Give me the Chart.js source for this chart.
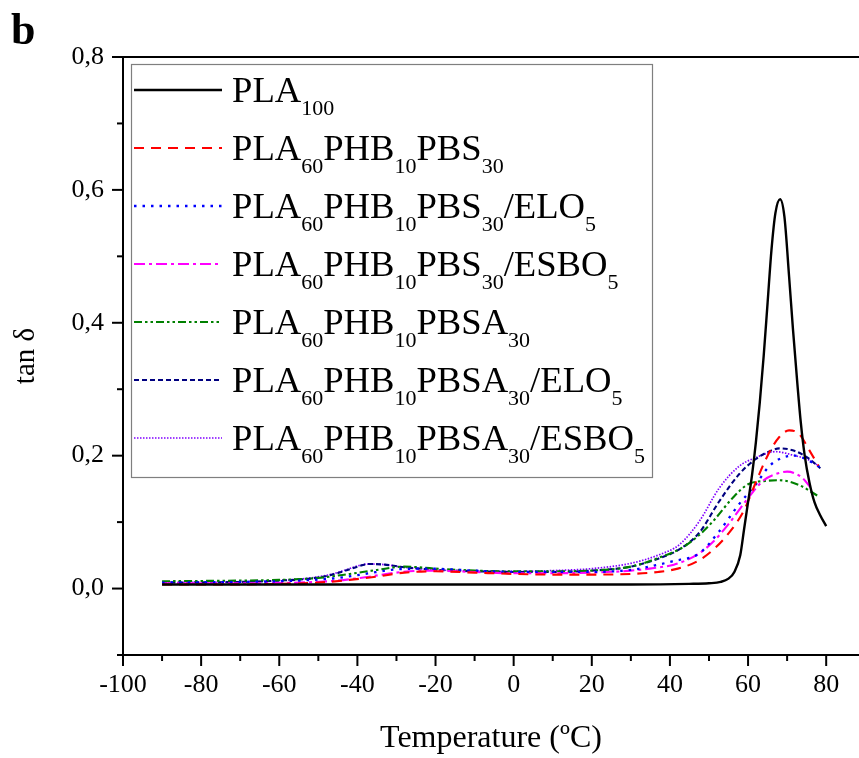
<!DOCTYPE html>
<html>
<head>
<meta charset="utf-8">
<script src="https://cdn.jsdelivr.net/npm/chart.js@4/dist/chart.umd.min.js"></script>
<style>
  body { margin: 0; background: #fff; }
  canvas { display: block; }
</style>
</head>
<body>
<canvas id="grafico" width="859" height="758"></canvas>
<script>
// ejes
const xTicks = [-100, -80, -60, -40, -20, 0, 20, 40, 60, 80];
const xMinor = [-90, -70, -50, -30, -10, 10, 30, 50, 70];
const yTicks = [0, 0.2, 0.4, 0.6, 0.8];
const yMinor = [-0.1, 0.1, 0.3, 0.5, 0.7];

// series (temperatura, tan delta)
const tPLA100 = [-90, -70, -50, -30, -10, 10, 30, 45, 50, 53, 55, 56.5, 58, 59, 60, 61, 62, 63, 64, 65, 66, 67, 68.2, 69.3, 70.5, 71.5, 72.6, 73.5, 74.5, 75.7, 77, 78.5, 80];
const vPLA100 = [0.006, 0.006, 0.006, 0.006, 0.006, 0.006, 0.006, 0.007, 0.008, 0.010, 0.015, 0.025, 0.05, 0.09, 0.13, 0.17, 0.22, 0.28, 0.35, 0.43, 0.51, 0.565, 0.586, 0.56, 0.47, 0.39, 0.31, 0.25, 0.2, 0.16, 0.13, 0.11, 0.094];

const tPBS = [-90, -75, -60, -50, -42, -35, -28, -20, -10, 0, 10, 20, 30, 37, 42, 47, 51, 55, 59, 62, 65, 68, 70.5, 73, 76, 78];
const vPBS = [0.006, 0.006, 0.007, 0.009, 0.013, 0.018, 0.024, 0.026, 0.024, 0.022, 0.021, 0.021, 0.022, 0.025, 0.030, 0.041, 0.058, 0.083, 0.118, 0.16, 0.2, 0.228, 0.238, 0.233, 0.205, 0.185];

const tPBS_ELO = [-90, -70, -55, -45, -38, -30, -22, -10, 0, 10, 20, 30, 33, 40.6, 47.5, 52.6, 57.7, 62, 65.4, 68.8, 72, 76, 78.6];
const vPBS_ELO = [0.009, 0.010, 0.012, 0.016, 0.022, 0.029, 0.030, 0.027, 0.025, 0.025, 0.025, 0.028, 0.031, 0.041, 0.053, 0.086, 0.127, 0.157, 0.184, 0.197, 0.2, 0.191, 0.182];

const tPBS_ESBO = [-90, -70, -55, -45, -38, -30, -22, -10, 0, 10, 20, 30, 36, 41, 47, 51, 55, 60, 64, 68, 70, 74, 76.5];
const vPBS_ESBO = [0.008, 0.008, 0.009, 0.012, 0.017, 0.024, 0.027, 0.025, 0.023, 0.023, 0.024, 0.027, 0.031, 0.036, 0.051, 0.07, 0.097, 0.136, 0.163, 0.174, 0.176, 0.166, 0.148];

const tPBSA = [-90, -70, -60, -50, -42, -35, -28, -20, -10, 0, 10, 20, 30, 37, 43, 47, 51, 56, 60, 64.5, 68, 73, 77.7];
const vPBSA = [0.011, 0.012, 0.013, 0.016, 0.022, 0.028, 0.033, 0.030, 0.027, 0.026, 0.026, 0.027, 0.033, 0.046, 0.061, 0.078, 0.101, 0.136, 0.157, 0.162, 0.163, 0.156, 0.14];

const tPBSA_ELO = [-90, -70, -60, -52, -47, -43, -40, -37, -33, -28, -22, -15, 0, 10, 20, 30, 37, 42.4, 47.5, 52.6, 57.7, 62, 66, 68, 72, 75.7, 78.5];
const vPBSA_ELO = [0.009, 0.010, 0.012, 0.015, 0.020, 0.027, 0.033, 0.037, 0.036, 0.032, 0.029, 0.027, 0.025, 0.025, 0.027, 0.033, 0.045, 0.059, 0.084, 0.131, 0.172, 0.195, 0.208, 0.211, 0.207, 0.195, 0.181];

const tPBSA_ESBO = [-90, -70, -60, -52, -47, -43, -40, -37, -33, -28, -22, -15, 0, 10, 20, 30, 37.3, 42.4, 47.5, 52.6, 57.7, 62, 67, 72, 75, 78];
const vPBSA_ESBO = [0.009, 0.010, 0.012, 0.016, 0.021, 0.028, 0.034, 0.037, 0.036, 0.032, 0.029, 0.027, 0.026, 0.027, 0.030, 0.038, 0.051, 0.066, 0.101, 0.151, 0.184, 0.197, 0.206, 0.2, 0.195, 0.185];

// leyenda: _{..} = subíndice
const etiquetas = [
  "PLA_{100}",
  "PLA_{60}PHB_{10}PBS_{30}",
  "PLA_{60}PHB_{10}PBS_{30}/ELO_{5}",
  "PLA_{60}PHB_{10}PBS_{30}/ESBO_{5}",
  "PLA_{60}PHB_{10}PBSA_{30}",
  "PLA_{60}PHB_{10}PBSA_{30}/ELO_{5}",
  "PLA_{60}PHB_{10}PBSA_{30}/ESBO_{5}"
];

const FUENTE = '"Liberation Serif", "Times New Roman", serif';

const series = [
  { t: tPLA100, v: vPLA100, color: '#000000', dash: [], w: 2.4 },
  { t: tPBS, v: vPBS, color: '#ff0000', dash: [10, 7], w: 2.1 },
  { t: tPBS_ELO, v: vPBS_ELO, color: '#0000ff', dash: [2.5, 6], w: 2.3 },
  { t: tPBS_ESBO, v: vPBS_ESBO, color: '#ff00ff', dash: [11, 4, 3, 4], w: 2.1 },
  { t: tPBSA, v: vPBSA, color: '#008000', dash: [8, 3, 2.5, 3, 2.5, 3], w: 2.1 },
  { t: tPBSA_ELO, v: vPBSA_ELO, color: '#000080', dash: [5, 3], w: 2.1 },
  { t: tPBSA_ESBO, v: vPBSA_ESBO, color: '#8000ff', dash: [1.5, 1.5], w: 1.7 }
];

function textoPlano(s) { return s.replace(/_\{([^}]*)\}/g, '$1'); }

function textoRico(ctx, s, x, y, size, medir) {
  const partes = s.split(/(_\{[^}]*\})/).filter(Boolean);
  partes.forEach(p => {
    if (p.startsWith('_{')) {
      const t = p.slice(2, -1);
      ctx.font = (size * 0.6) + 'px ' + FUENTE;
      if (!medir) ctx.fillText(t, x, y + size * 0.36);
      x += ctx.measureText(t).width;
    } else {
      ctx.font = size + 'px ' + FUENTE;
      if (!medir) ctx.fillText(p, x, y);
      x += ctx.measureText(p).width;
    }
  });
  return x;
}

// marco, marcas de los ejes y la letra "b"
const marco = {
  id: 'marco',
  afterDraw(chart) {
    const { ctx, chartArea: a, scales: { x, y } } = chart;
    ctx.save();
    ctx.strokeStyle = '#000';
    ctx.lineWidth = 2;
    const seg = (x1, y1, x2, y2) => { ctx.beginPath(); ctx.moveTo(x1, y1); ctx.lineTo(x2, y2); ctx.stroke(); };
    seg(a.left, a.top, a.right, a.top);
    seg(a.left, a.top - 1, a.left, a.bottom + 1);
    seg(a.left - 1, a.bottom, a.right, a.bottom);
    xTicks.forEach(v => { const p = x.getPixelForValue(v); seg(p, a.bottom, p, a.bottom + 11); });
    xMinor.forEach(v => { const p = x.getPixelForValue(v); seg(p, a.bottom, p, a.bottom + 6); });
    yTicks.forEach(v => { const p = y.getPixelForValue(v); seg(a.left, p, a.left - 11, p); });
    yMinor.forEach(v => { const p = y.getPixelForValue(v); seg(a.left, p, a.left - 6, p); });
    ctx.fillStyle = '#000';
    ctx.font = 'bold 44px ' + FUENTE;
    ctx.textBaseline = 'alphabetic';
    ctx.fillText('b', 11, 44);
    ctx.restore();
  }
};

// leyenda con subíndices
const leyenda = {
  id: 'leyenda',
  afterDatasetsDraw(chart) {
    const ctx = chart.ctx;
    const caja = { x: 131, y: 64, w: 521, h: 413 };
    ctx.save();
    ctx.fillStyle = '#fff';
    ctx.fillRect(caja.x, caja.y, caja.w, caja.h);
    ctx.strokeStyle = '#7f7f7f';
    ctx.lineWidth = 1.2;
    ctx.strokeRect(caja.x + 0.5, caja.y + 0.5, caja.w, caja.h);
    // ajustar tamaño para que la etiqueta más larga ocupe ~413 px
    let maxW = 0;
    etiquetas.forEach(s => { maxW = Math.max(maxW, textoRico(ctx, s, 0, 0, 33, true)); });
    const size = 33 * 413 / maxW;
    ctx.fillStyle = '#000';
    ctx.textBaseline = 'alphabetic';
    etiquetas.forEach((s, i) => {
      const yy = 90 + i * 58;
      const ds = series[i];
      ctx.strokeStyle = ds.color;
      ctx.lineWidth = ds.w;
      ctx.setLineDash(ds.dash);
      ctx.beginPath(); ctx.moveTo(134, yy); ctx.lineTo(222, yy); ctx.stroke();
      ctx.setLineDash([]);
      textoRico(ctx, s, 232, yy + 12, size, false);
    });
    ctx.restore();
  }
};

const ctx = document.getElementById('grafico').getContext('2d');

new Chart(ctx, {
  type: 'line',
  data: {
    datasets: series.map((s, i) => ({
      label: textoPlano(etiquetas[i]),
      data: s.t.map((t, k) => ({ x: t, y: s.v[k] })),
      borderColor: s.color,
      borderWidth: s.w,
      borderDash: s.dash,
      pointRadius: 0,
      fill: false,
      cubicInterpolationMode: 'monotone'
    }))
  },
  options: {
    responsive: false,
    animation: false,
    layout: { padding: { top: 57, right: 0, left: 0, bottom: 0 } },
    plugins: {
      legend: { display: false },
      tooltip: { enabled: false }
    },
    scales: {
      x: {
        type: 'linear',
        min: -100,
        max: 88.4,
        afterBuildTicks: sc => { sc.ticks = xTicks.map(v => ({ value: v })); },
        afterFit: sc => { sc.height = 103; },
        grid: { display: false, drawTicks: false },
        border: { display: false },
        ticks: { color: '#000', font: { family: FUENTE, size: 26 }, padding: 15, maxRotation: 0 },
        title: { display: true, text: 'Temperature (ºC)', color: '#000', font: { family: FUENTE, size: 32 }, padding: { top: 0, bottom: 0 } }
      },
      y: {
        type: 'linear',
        min: -0.1,
        max: 0.8,
        afterBuildTicks: sc => { sc.ticks = yTicks.map(v => ({ value: v })); },
        afterFit: sc => { sc.width = 123; },
        grid: { display: false, drawTicks: false },
        border: { display: false },
        ticks: {
          color: '#000', font: { family: FUENTE, size: 26 }, padding: 19,
          callback: v => v.toFixed(1).replace('.', ',')
        },
        title: { display: true, text: 'tan δ', color: '#000', font: { family: FUENTE, size: 29 }, padding: { top: 9, bottom: 0 } }
      }
    }
  },
  plugins: [marco, leyenda]
});
</script>
</body>
</html>
